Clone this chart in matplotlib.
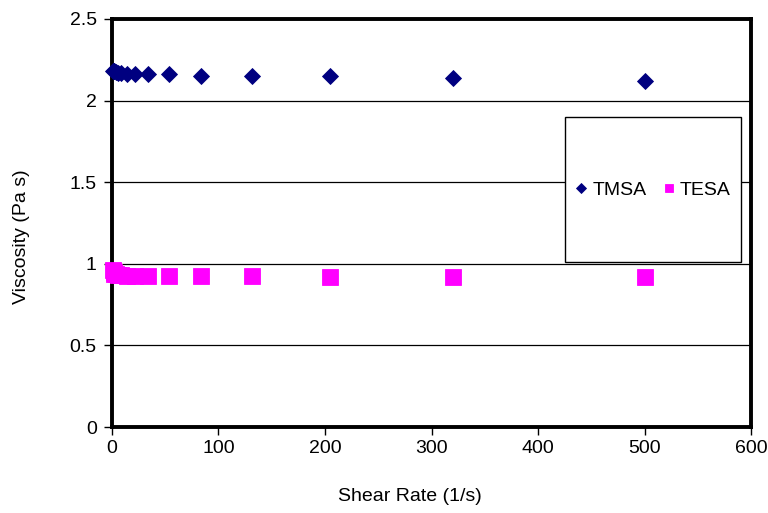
import matplotlib
matplotlib.use('Agg')
import matplotlib.pyplot as plt
from matplotlib.patches import Rectangle

# shear rate (1/s) and viscosity (Pa s)
shear_rate = [1.0, 1.5, 2.3, 3.6, 5.6, 8.8, 14, 22, 34, 54, 84, 131, 205, 320, 500]
tmsa = [2.18, 2.18, 2.18, 2.175, 2.17, 2.17, 2.165, 2.165, 2.16, 2.16, 2.15, 2.15, 2.15, 2.14, 2.12]
tesa = [0.96, 0.95, 0.94, 0.935, 0.93, 0.93, 0.925, 0.925, 0.925, 0.925, 0.925, 0.925, 0.92, 0.92, 0.917]

xticks = [0, 100, 200, 300, 400, 500, 600]
yticks = [0, 0.5, 1, 1.5, 2, 2.5]
ytick_labels = ['0', '0.5', '1', '1.5', '2', '2.5']

plt.rc('font', family='Liberation Sans', size=14)

fig = plt.figure(figsize=(7.68, 5.13), dpi=100)
ax = fig.add_axes([0.1458, 0.1676, 0.978 - 0.1458, 0.963 - 0.1676])

ax.plot(shear_rate, tmsa, linestyle='none', marker='D', markersize=8.0,
        markeredgewidth=0.6, color='#000080', label='TMSA', clip_on=False, zorder=3)
ax.plot(shear_rate, tesa, linestyle='none', marker='s', markersize=11.0,
        markeredgewidth=0.6, color='#ff00ff', label='TESA', clip_on=False, zorder=3)

ax.set_xlim(0, 600)
ax.set_ylim(0, 2.5)
ax.set_xticks(xticks)
ax.set_yticks(yticks)
ax.set_yticklabels(ytick_labels)
ax.tick_params(direction='out', length=6, width=1, colors='black')
ax.tick_params(axis='x', pad=3)
ax.tick_params(axis='y', pad=5)

# horizontal gridlines only
ax.yaxis.grid(True, color='black', linewidth=0.9)
ax.set_axisbelow(True)
for s in ax.spines.values():
    s.set_linewidth(2.8)

ax.set_xlabel('Shear Rate (1/s)')
ax.set_ylabel('Viscosity (Pa s)')
# Excel-like title placement, a bit off centre
ax.xaxis.set_label_coords(0.466, -0.15)
ax.yaxis.set_label_coords(-0.128, 0.466)

# legend box (white, thin black edge) with entries centered inside
box = Rectangle((565 / 768, 1 - 262 / 513), 176 / 768, 145 / 513,
                transform=fig.transFigure, facecolor='white',
                edgecolor='black', linewidth=1.0, zorder=4)
fig.add_artist(box)

leg = fig.legend(loc='center', bbox_to_anchor=(653 / 768, 1 - 190 / 513),
                 ncol=2, frameon=False, handlelength=0.6, handletextpad=0.27,
                 columnspacing=0.83, borderpad=0, borderaxespad=0)
leg.set_zorder(5)
leg.legend_handles[0].set_markersize(5.1)
leg.legend_handles[1].set_markersize(6.2)

fig.savefig('out.png', dpi=100)
